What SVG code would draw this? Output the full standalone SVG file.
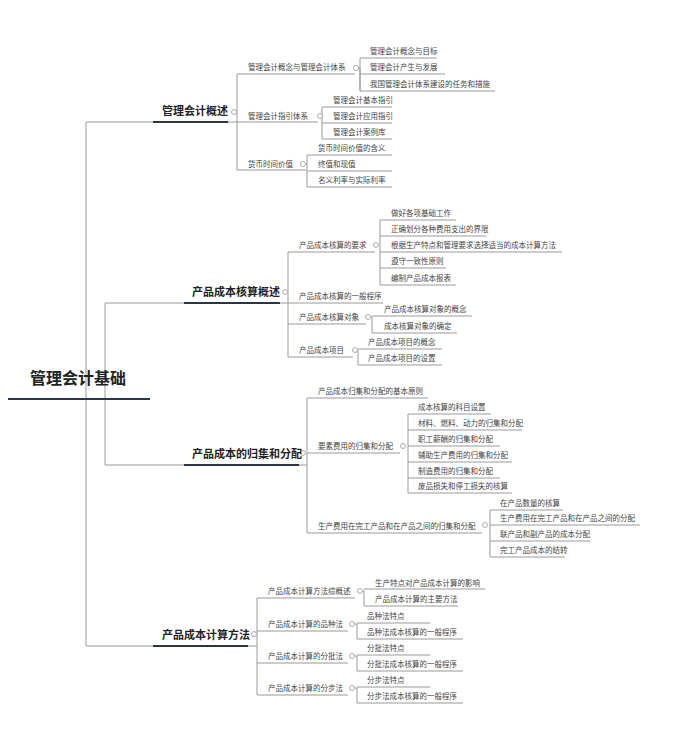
<svg xmlns="http://www.w3.org/2000/svg" width="694" height="741" viewBox="0 0 694 741">
<style>
text{font-family:"Noto Sans CJK SC","Liberation Sans",sans-serif;fill:#444}
.l{font-size:7.5px}
.m{font-size:7.5px}
.t{font-size:11px;font-weight:bold;fill:#222}
.r{font-size:16px;font-weight:bold;fill:#222}
.ln{stroke:#9a9a9a;stroke-width:1;fill:none}
.k{stroke:#2b3644;stroke-width:2.2;fill:none}
.c{stroke:#999;stroke-width:0.8;fill:#fff}
</style>
<rect width="694" height="741" fill="#fff"/>
<g id="connectors">
<path class="ln" d="M86 122V646M86 122H153M86 646H153M105 303V465M105 303H184M105 465H184"/>
<path class="ln" d="M228 122H237M237 74V170M237 74H355M237 122H318M237 170H306"/>
<path class="ln" d="M356 68H360V91M360 58V91M360 58H437M360 74H445M360 91H495"/>
<path class="ln" d="M320 116H322M322 107V139M322 107H392M322 123H392M322 139H392"/>
<path class="ln" d="M306 164H307M307 155V187M307 155H392M307 171H392M307 187H392"/>
<path class="ln" d="M280 303H288M288 252V357M288 252H375M288 303H383M288 324H366M288 357H353"/>
<path class="ln" d="M380 220V285M380 220H456M380 236H486M380 252H562M380 268H446M380 285H456"/>
<path class="ln" d="M368 317H372V333M372 316H472M372 333H457"/>
<path class="ln" d="M355 350H358V365M358 349H442M358 365H442"/>
<path class="ln" d="M299 465H307M307 398V533M307 398H428M307 453H400M307 533H482"/>
<path class="ln" d="M408 414V493M408 414H491M408 430H522M408 446H500M408 462H512M408 478H500M408 493H512"/>
<path class="ln" d="M490 510V557M490 510H563M490 525H640M490 541H590M490 557H565"/>
<path class="ln" d="M248 646H257M257 598V695M257 598H355M257 631H348M257 663H348M257 695H348"/>
<path class="ln" d="M360 591H364V606M364 589H485M364 606H458"/>
<path class="ln" d="M352 624H357V639M357 623H430M357 639H463"/>
<path class="ln" d="M352 656H357V671M357 655H430M357 671H463"/>
<path class="ln" d="M352 688H357V703M357 687H430M357 703H463"/>
<path class="k" d="M8 399H150M153 122H228M184 303H280M184 465H299M153 646H248"/>
</g>
<g id="circles">
<circle class="c" cx="234" cy="112" r="2.5"/><circle class="c" cx="285" cy="292" r="2.5"/><circle class="c" cx="303" cy="453" r="2.5"/><circle class="c" cx="254" cy="634" r="2.5"/>
<circle class="c" cx="356" cy="68" r="2.5"/><circle class="c" cx="320" cy="116" r="2.5"/><circle class="c" cx="303" cy="164" r="2.5"/>
<circle class="c" cx="376" cy="245" r="2.5"/><circle class="c" cx="368" cy="317" r="2.5"/><circle class="c" cx="355" cy="350" r="2.5"/>
<circle class="c" cx="403" cy="446" r="2.5"/><circle class="c" cx="485" cy="525" r="2.5"/>
<circle class="c" cx="360" cy="591" r="2.5"/><circle class="c" cx="352" cy="624" r="2.5"/><circle class="c" cx="352" cy="656" r="2.5"/><circle class="c" cx="352" cy="688" r="2.5"/>
</g>
<g id="root"><text class="r" x="30" y="384">管理会计基础</text></g>
<g id="n1"><text class="t" x="162" y="115">管理会计概述</text></g>
<g id="n2"><text class="t" x="192" y="296">产品成本核算概述</text></g>
<g id="n3"><text class="t" x="192" y="458">产品成本的归集和分配</text></g>
<g id="n4"><text class="t" x="162" y="639">产品成本计算方法</text></g>
<g id="n1c">
<text class="m" x="248" y="70">管理会计概念与管理会计体系</text>
<text class="m" x="248" y="119">管理会计指引体系</text>
<text class="m" x="248" y="167">货币时间价值</text>
<text class="l" x="370" y="54">管理会计概念与目标</text>
<text class="l" x="370" y="70">管理会计产生与发展</text>
<text class="l" x="370" y="87">我国管理会计体系建设的任务和措施</text>
<text class="l" x="333" y="103">管理会计基本指引</text>
<text class="l" x="333" y="119">管理会计应用指引</text>
<text class="l" x="333" y="135">管理会计案例库</text>
<text class="l" x="318" y="151">货币时间价值的含义</text>
<text class="l" x="318" y="167">终值和现值</text>
<text class="l" x="318" y="183">名义利率与实际利率</text>
</g>
<g id="n2c">
<text class="m" x="299" y="248">产品成本核算的要求</text>
<text class="m" x="299" y="299">产品成本核算的一般程序</text>
<text class="m" x="299" y="320">产品成本核算对象</text>
<text class="m" x="299" y="353">产品成本项目</text>
<text class="l" x="391" y="216">做好各项基础工作</text>
<text class="l" x="391" y="232">正确划分各种费用支出的界限</text>
<text class="l" x="391" y="248">根据生产特点和管理要求选择适当的成本计算方法</text>
<text class="l" x="391" y="264">遵守一致性原则</text>
<text class="l" x="391" y="281">编制产品成本报表</text>
<text class="l" x="384" y="312">产品成本核算对象的概念</text>
<text class="l" x="384" y="329">成本核算对象的确定</text>
<text class="l" x="368" y="345">产品成本项目的概念</text>
<text class="l" x="368" y="361">产品成本项目的设置</text>
</g>
<g id="n3c">
<text class="m" x="318" y="394">产品成本归集和分配的基本原则</text>
<text class="m" x="318" y="449">要素费用的归集和分配</text>
<text class="m" x="318" y="529">生产费用在完工产品和在产品之间的归集和分配</text>
<text class="l" x="418" y="410">成本核算的科目设置</text>
<text class="l" x="418" y="426">材料、燃料、动力的归集和分配</text>
<text class="l" x="418" y="442">职工薪酬的归集和分配</text>
<text class="l" x="418" y="458">辅助生产费用的归集和分配</text>
<text class="l" x="418" y="474">制造费用的归集和分配</text>
<text class="l" x="418" y="489">废品损失和停工损失的核算</text>
<text class="l" x="500" y="506">在产品数量的核算</text>
<text class="l" x="500" y="521">生产费用在完工产品和在产品之间的分配</text>
<text class="l" x="500" y="537">联产品和副产品的成本分配</text>
<text class="l" x="500" y="553">完工产品成本的结转</text>
</g>
<g id="n4c">
<text class="m" x="268" y="594">产品成本计算方法综概述</text>
<text class="m" x="268" y="627">产品成本计算的品种法</text>
<text class="m" x="268" y="659">产品成本计算的分批法</text>
<text class="m" x="268" y="691">产品成本计算的分步法</text>
<text class="l" x="375" y="586">生产特点对产品成本计算的影响</text>
<text class="l" x="375" y="602">产品成本计算的主要方法</text>
<text class="l" x="367" y="619">品种法特点</text>
<text class="l" x="367" y="635">品种法成本核算的一般程序</text>
<text class="l" x="367" y="651">分批法特点</text>
<text class="l" x="367" y="667">分批法成本核算的一般程序</text>
<text class="l" x="367" y="683">分步法特点</text>
<text class="l" x="367" y="699">分步法成本核算的一般程序</text>
</g>
</svg>
